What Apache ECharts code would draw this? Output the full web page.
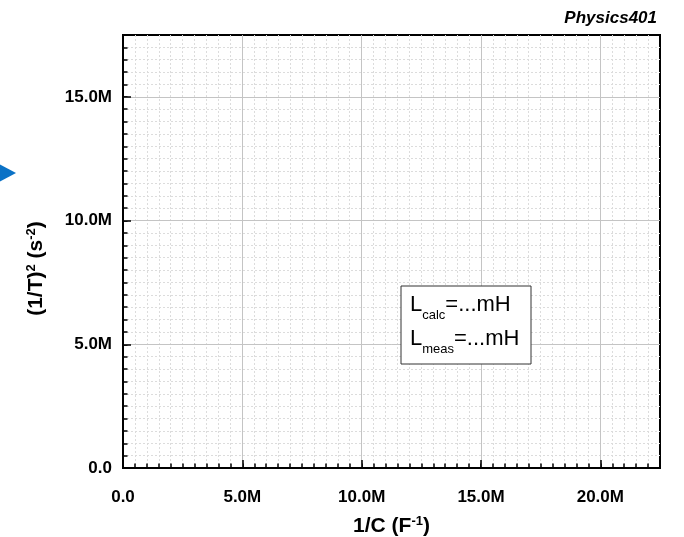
<!DOCTYPE html>
<html>
<head>
<meta charset="UTF-8">
<title>Physics401</title>
<script src="https://cdn.jsdelivr.net/npm/echarts@6/dist/echarts.min.js"></script>
<style>
  html, body { margin: 0; padding: 0; background: #fff; }
  #chart { width: 684px; height: 537px; }
</style>
</head>
<body>
<div id="chart"></div>
<script>
// measured points (none plotted yet)
var invC = [];
var invTsq = [];

// axis ranges and tick steps
var xRange = [0, 22.5e6];
var yRange = [0, 17.5e6];
var majorStep = 5e6;
var minorStep = 0.5e6;

// annotation text
var lCalc = '=...mH';
var lMeas = '=...mH';

var FONT = 'Liberation Sans, Arial, sans-serif';

function fmt(v) {
    if (v === 0) return '0.0';
    return (v / 1e6).toFixed(1) + 'M';
}

var points = invC.map(function (x, i) { return [x, invTsq[i]]; });

var chart = echarts.init(document.getElementById('chart'));

function majorAxis(range, pos, margin) {
    return {
        type: 'value',
        position: pos,
        offset: 0,
        min: range[0],
        max: range[1],
        interval: majorStep,
        z: 3,
        axisLine: { show: true, onZero: false, lineStyle: { color: '#000', width: 2 } },
        axisTick: { show: true, inside: true, length: 8, lineStyle: { color: '#000', width: 1.5 } },
        axisLabel: {
            margin: margin, formatter: fmt, showMaxLabel: false,
            color: '#000', fontFamily: FONT, fontWeight: 'bold', fontSize: 17
        },
        splitLine: {
            show: true, showMinLine: false, showMaxLine: false,
            lineStyle: { color: '#c4c4c4', width: 1 }
        }
    };
}

function minorAxis(range, pos) {
    return {
        type: 'value',
        position: pos,
        offset: 0,
        min: range[0],
        max: range[1],
        interval: minorStep,
        z: 1,
        axisLine: { show: false, onZero: false },
        axisTick: { show: true, inside: true, length: 4.5, lineStyle: { color: '#000', width: 1.5 } },
        axisLabel: { show: false },
        splitLine: {
            show: true, showMinLine: false, showMaxLine: false,
            lineStyle: { color: '#dcdcdc', width: 1, type: [2, 2] }
        }
    };
}

var xMain = majorAxis(xRange, 'bottom', 21);
xMain.name = '{m|1/C (F}{s|-1}{m|)}';
xMain.nameLocation = 'middle';
xMain.nameGap = 47;
xMain.nameTextStyle = {
    rich: {
        m: { fontFamily: FONT, fontWeight: 'bold', fontSize: 21, lineHeight: 22, color: '#000' },
        s: { fontFamily: FONT, fontWeight: 'bold', fontSize: 13, lineHeight: 12, verticalAlign: 'top', color: '#000' }
    }
};

var yMain = majorAxis(yRange, 'left', 11);
yMain.name = '{m|(1/T)}{s|2}{m| (s}{s|-2}{m|)}';
yMain.nameLocation = 'middle';
yMain.nameGap = 76;
yMain.nameTextStyle = {
    padding: [0, 34, 0, 0],
    rich: {
        m: { fontFamily: FONT, fontWeight: 'bold', fontSize: 21, lineHeight: 22, color: '#000' },
        s: { fontFamily: FONT, fontWeight: 'bold', fontSize: 13, lineHeight: 12, verticalAlign: 'top', color: '#000' }
    }
};

var option = {
    animation: false,
    backgroundColor: '#fff',
    title: {
        text: 'Physics401',
        right: 22,
        top: 5,
        textStyle: { fontFamily: FONT, fontWeight: 'bold', fontStyle: 'italic', fontSize: 17, color: '#000' }
    },
    grid: {
        left: 123, right: 24, top: 35, bottom: 69,
        outerBoundsMode: 'none',
        containLabel: false,
        show: true, borderColor: '#000', borderWidth: 2, backgroundColor: 'transparent'
    },
    xAxis: [xMain, minorAxis(xRange, 'bottom')],
    yAxis: [yMain, minorAxis(yRange, 'left')],
    series: [{
        type: 'scatter',
        xAxisIndex: 0,
        yAxisIndex: 0,
        symbol: 'triangle',
        symbolSize: 10,
        itemStyle: { color: '#0b72c6' },
        data: points
    }],
    graphic: [
        {
            type: 'polygon',
            shape: { points: [[-3, 163], [16, 173], [-3, 183]] },
            style: { fill: '#0b72c6' }
        },
        {
            type: 'rect',
            shape: { x: 401, y: 286, width: 130, height: 78 },
            style: { fill: '#fff', stroke: '#333', lineWidth: 1 },
            z: 10
        },
        {
            type: 'text',
            left: 410,
            top: 294,
            z: 11,
            style: {
                text: '{m|L}{s|calc}{m|' + lCalc + '}\n{m|L}{s|meas}{m|' + lMeas + '}',
                rich: {
                    m: { fontFamily: FONT, fontSize: 22, lineHeight: 34, fill: '#000' },
                    s: { fontFamily: FONT, fontSize: 13, lineHeight: 10, verticalAlign: 'bottom', fill: '#000' }
                }
            }
        }
    ]
};

chart.setOption(option);
</script>
</body>
</html>
